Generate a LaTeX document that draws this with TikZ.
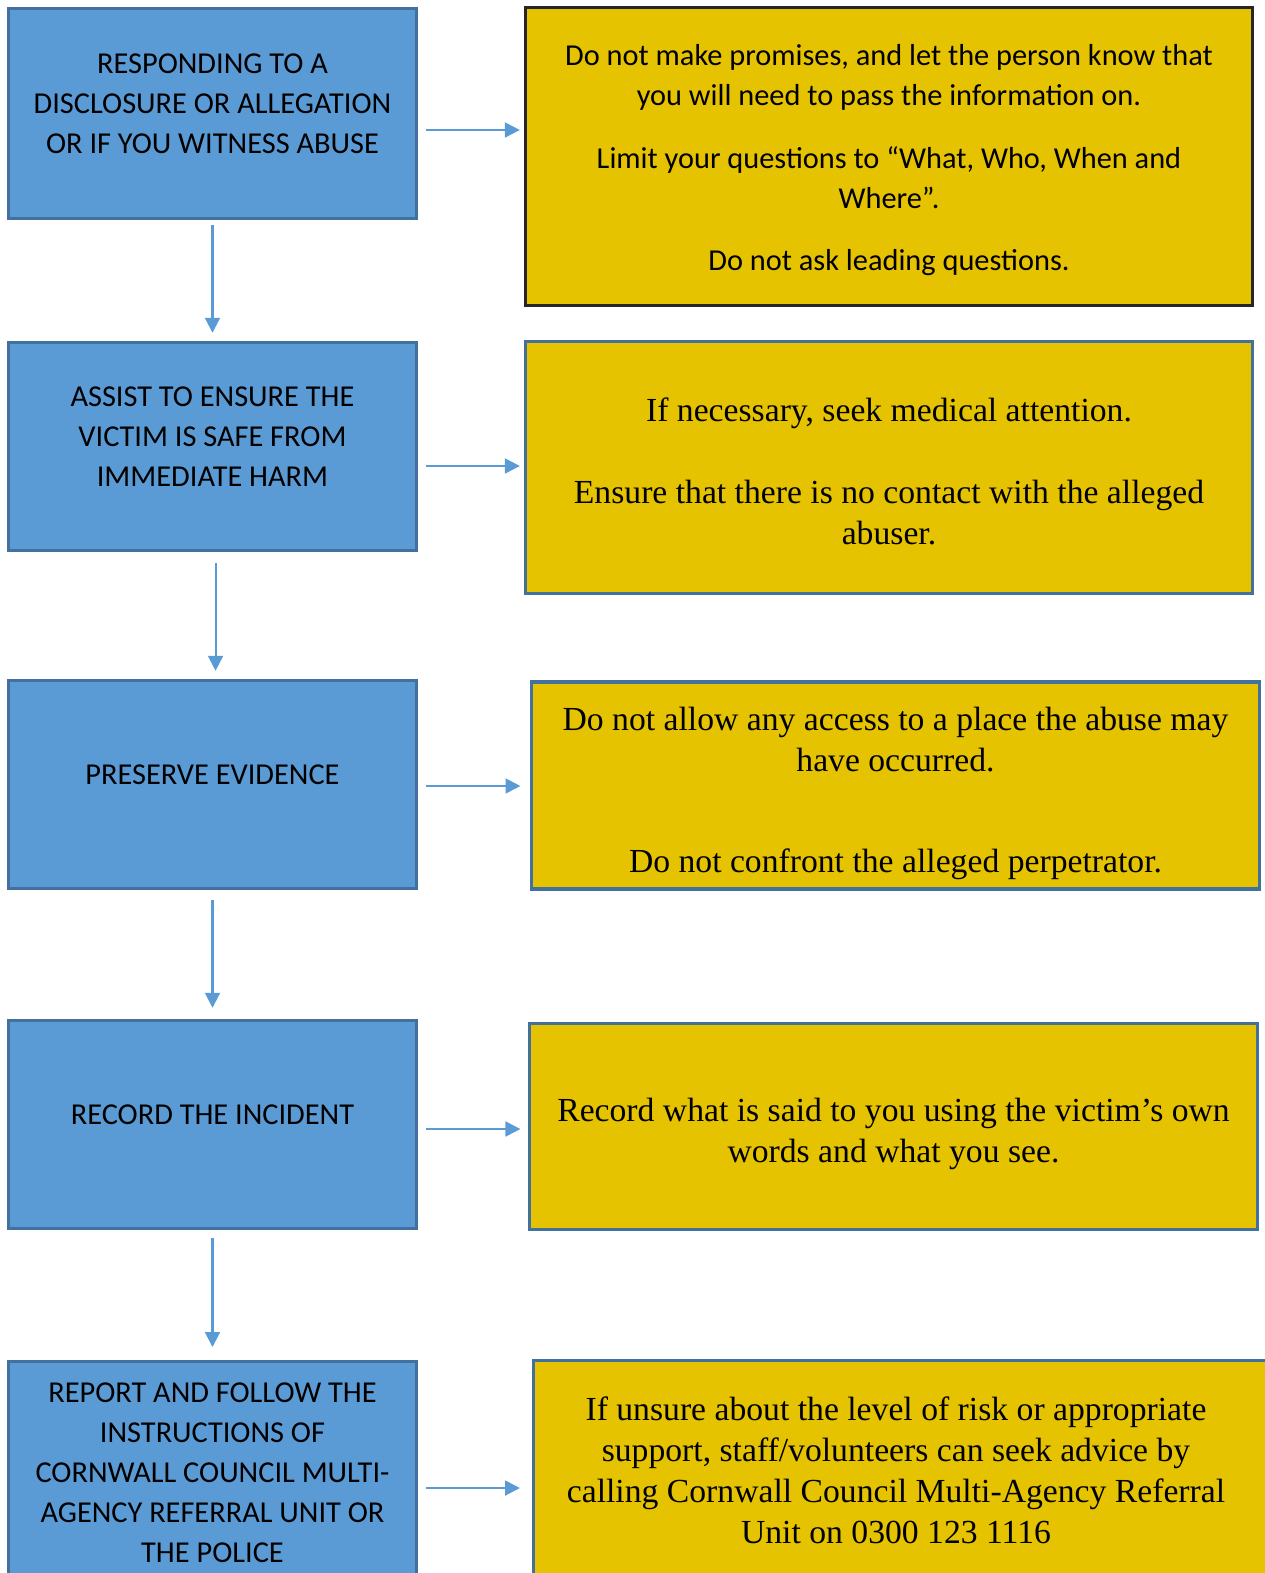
\documentclass[tikz,border=0pt]{standalone}
\usepackage{fontspec}
\setmainfont{Liberation Serif}
\newfontfamily\calibri{Carlito}
\usetikzlibrary{arrows.meta}
\definecolor{boxblue}{HTML}{5B9BD5}
\definecolor{boxedge}{HTML}{41719C}
\definecolor{tipgold}{HTML}{E5C300}
\definecolor{tipedge}{HTML}{262626}
\definecolor{flowblue}{HTML}{5B9BD5}
\tikzset{
  stagebox/.style={draw=boxedge, fill=boxblue, line width=1.1pt, inner sep=0pt,
    minimum width=148pt, minimum height=75.5pt, text width=145pt, align=flush center,
    font=\calibri\fontsize{11}{14.5}\selectfont,
    execute at begin node={\rule{0pt}{10.15pt}},
    execute at end node={\rule[-10.3pt]{0pt}{10.3pt}}},
  tipbox/.style={draw=boxedge, fill=tipgold, line width=1.1pt, inner sep=0pt,
    minimum width=263.5pt, text width=255pt, align=flush center,
    font=\fontsize{12.2}{14.86}\selectfont},
  tipspace/.style 2 args={execute at begin node={\rule{0pt}{#1}},
    execute at end node={\rule[-#2]{0pt}{#2}}},
  flowarrow/.style={draw=flowblue, line width=0.75pt, -{Triangle[length=5.4pt,width=5.4pt]}}
}
\begin{document}
\begin{tikzpicture}[x=0.36234pt, y=-0.36234pt]
			\useasboundingbox (0,0) rectangle (1264,1573);
			\node[stagebox, minimum height=76.2pt] (resp) at (212.5,113.5){RESPONDING TO A\\DISCLOSURE OR ALLEGATION\\OR IF YOU WITNESS ABUSE};
			\node[stagebox] (assist) at (212.5,446.5){ASSIST TO ENSURE THE\\VICTIM IS SAFE FROM\\IMMEDIATE HARM};
			\node[stagebox] (preserve) at (212.5,784.5){PRESERVE EVIDENCE};
			\node[stagebox] (record) at (212.5,1124.5){RECORD THE INCIDENT};
			\node[stagebox, minimum height=87.7pt] (report) at (212.5,1482.5){REPORT AND FOLLOW THE\\INSTRUCTIONS OF\\CORNWALL COUNCIL MULTI-\\AGENCY REFERRAL UNIT OR\\THE POLICE};
			\node[tipbox, draw=tipedge, minimum height=107.8pt, font=\calibri\fontsize{11}{14.5}\selectfont, tipspace={12.7pt}{4.35pt}]
				(resptip) at (889,156.5){Do not make promises, and let the person know that\\you will need to pass the information on.\\[8pt]Limit your questions to “What, Who, When and\\Where”.\\[8pt]Do not ask leading questions.};
			\node[tipbox, minimum height=91pt, tipspace={16pt}{4.46pt}] (assisttip) at (889,467.5){If necessary, seek medical attention.\\[14.86pt]Ensure that there is no contact with the alleged\\abuser.};
			\node[tipbox, minimum height=75pt, tipspace={16pt}{4.46pt}] (preservetip) at (895.5,785.5){Do not allow any access to a place the abuse may\\have occurred.\\[22pt]Do not confront the alleged perpetrator.};
			\node[tipbox, minimum height=74.3pt, tipspace={16pt}{4.46pt}] (recordtip) at (893.5,1126.5){Record what is said to you using the victim’s own\\words and what you see.};
			\node[tipbox, minimum width=270.5pt, minimum height=90.6pt, tipspace={16pt}{18.56pt},
				execute at begin node={\rightskip=7.8pt plus 1fil}] (reporttip) at (906.75,1485.5){If unsure about the level of risk or appropriate\\support, staff/volunteers can seek advice by\\calling Cornwall Council Multi-Agency Referral\\Unit on 0300 123 1116};
			\draw[flowarrow, shorten <=1.8pt, shorten >=2.9pt] (resp) -- (assist);
			\draw[flowarrow, shorten <=4pt, shorten >=2.9pt] ([xshift=1.1pt]assist.south) -- ([xshift=1.1pt]preserve.north);
			\draw[flowarrow, shorten <=3.6pt, shorten >=4pt] (preserve) -- (record);
			\draw[flowarrow, shorten <=2.9pt, shorten >=4.7pt] (record) -- (report);
			\draw[flowarrow, shorten <=2.9pt, shorten >=1.45pt] (resp.east |- 0,130) -- (resptip.west |- 0,130);
			\draw[flowarrow, shorten <=2.9pt, shorten >=1.45pt] (assist.east |- 0,466) -- (assisttip.west |- 0,466);
			\draw[flowarrow, shorten <=2.9pt, shorten >=3.6pt] (preserve.east |- 0,786) -- (preservetip.west |- 0,786);
			\draw[flowarrow, shorten <=2.9pt, shorten >=2.9pt] (record.east |- 0,1129) -- (recordtip.west |- 0,1129);
			\draw[flowarrow, shorten <=2.9pt, shorten >=4.35pt] (report.east |- 0,1488) -- (reporttip.west |- 0,1488);
		\end{tikzpicture}
\end{document}
